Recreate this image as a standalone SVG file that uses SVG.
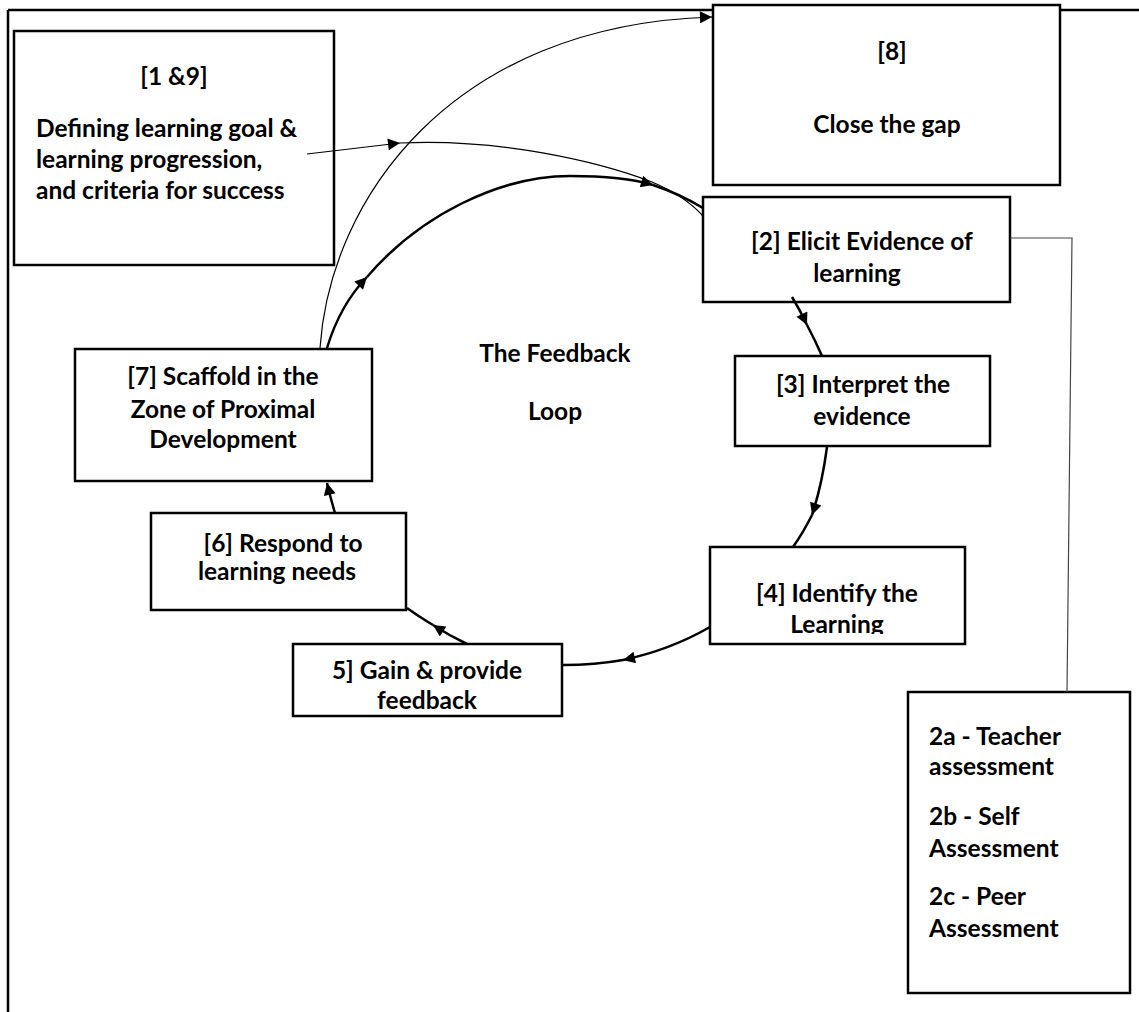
<svg xmlns="http://www.w3.org/2000/svg" width="1139" height="1012" viewBox="0 0 1139 1012">
<style>
.box{fill:#fff;stroke:#000;stroke-width:2.5}
.t{font-family:Lato,"Liberation Sans",sans-serif;font-weight:bold;font-size:24.5px;fill:#000}
.c{text-anchor:middle}
.thick{fill:none;stroke:#000;stroke-width:2.5}
.thin{fill:none;stroke:#000;stroke-width:1.2}
.frame{stroke:#000;stroke-width:2.5}
</style>
<defs>
<marker id="arr" viewBox="0 0 10 10" refX="10" refY="5" markerWidth="17" markerHeight="12" markerUnits="userSpaceOnUse" orient="auto">
<path d="M0,0 L10,5 L0,10 z" fill="#000"/>
</marker>
<clipPath id="clip4"><rect x="710" y="547" width="255" height="87"/></clipPath>
</defs>
<rect width="1139" height="1012" fill="#fff"/>
<g id="frame">
<line class="frame" x1="8" y1="10" x2="1139" y2="10"/>
<line class="frame" x1="8" y1="10" x2="8" y2="1012"/>
</g>
<g id="node1">
<rect class="box" x="14" y="31" width="320" height="234"/>
<text class="t c" x="174" y="85">[1 &amp;9]</text>
<text class="t" x="36" y="137">Defining learning goal &amp;</text>
<text class="t" x="36" y="168">learning progression,</text>
<text class="t" x="36" y="199">and criteria for success</text>
</g>
<g id="node8">
<rect class="box" x="713" y="5" width="347" height="180"/>
<text class="t c" x="892" y="60">[8]</text>
<text class="t c" x="887" y="133">Close the gap</text>
</g>
<g id="node2">
<rect class="box" x="703" y="197" width="307" height="105"/>
<text class="t c" x="862" y="250">[2] Elicit Evidence of</text>
<text class="t c" x="857" y="282">learning</text>
</g>
<g id="node3">
<rect class="box" x="735" y="356" width="255" height="90"/>
<text class="t c" x="863" y="393">[3] Interpret the</text>
<text class="t c" x="862" y="425">evidence</text>
</g>
<g id="node4">
<rect class="box" x="710" y="547" width="255" height="97"/>
<g clip-path="url(#clip4)">
<text class="t c" x="837" y="602">[4] Identify the</text>
<text class="t c" x="837" y="633">Learning</text>
</g>
</g>
<g id="node5">
<rect class="box" x="293" y="644" width="269" height="72"/>
<text class="t c" x="427" y="679">5] Gain &amp; provide</text>
<text class="t c" x="427" y="709">feedback</text>
</g>
<g id="node6">
<rect class="box" x="151" y="513" width="255" height="97"/>
<text class="t c" x="283" y="552">[6] Respond to</text>
<text class="t c" x="277" y="580">learning needs</text>
</g>
<g id="node7">
<rect class="box" x="75" y="349" width="297" height="132"/>
<text class="t c" x="223" y="385">[7] Scaffold in the</text>
<text class="t c" x="223" y="418">Zone of Proximal</text>
<text class="t c" x="223" y="448">Development</text>
</g>
<g id="title">
<text class="t c" x="555" y="362">The Feedback</text>
<text class="t c" x="555" y="420">Loop</text>
</g>
<g id="node2abc">
<rect class="box" x="908" y="692" width="222" height="301"/>
<text class="t" x="929" y="745">2a - Teacher</text>
<text class="t" x="929" y="775">assessment</text>
<text class="t" x="929" y="825">2b - Self</text>
<text class="t" x="929" y="857">Assessment</text>
<text class="t" x="929" y="905">2c - Peer</text>
<text class="t" x="929" y="937">Assessment</text>
</g>
<g id="connectors">
<path class="thin" d="M320,348 C330,200 450,25 712,17" marker-end="url(#arr)"/>
<path class="thin" d="M307,154 L400,143" marker-end="url(#arr)"/>
<path class="thin" d="M400,143 C500,138 600,162 652,182 Q685,196 703,216"/>
<path class="thick" d="M327,348 Q340,305 367,277" marker-end="url(#arr)"/>
<path class="thick" d="M367,277 C420,215 500,176 570,176 C605,176 630,178 653,185" marker-end="url(#arr)"/>
<path class="thick" d="M653,185 Q680,194 703,208"/>
<path class="thick" d="M792,297 Q800,310 807,325" marker-end="url(#arr)"/>
<path class="thick" d="M807,325 Q815,340 822,356"/>
<path class="thick" d="M827,447 Q822,485 812,515" marker-end="url(#arr)"/>
<path class="thick" d="M812,515 Q803,533 793,547"/>
<path class="thick" d="M710,627 Q670,650 623,660" marker-end="url(#arr)"/>
<path class="thick" d="M623,660 Q595,665 563,665"/>
<path class="thick" d="M467,644 Q450,636 433,625" marker-end="url(#arr)"/>
<path class="thick" d="M433,625 Q418,616 407,608"/>
<path class="thick" d="M335,513 Q331,500 327,483" marker-end="url(#arr)"/>
<path d="M1010,238 L1072,238 L1067,692" fill="none" stroke="#444" stroke-width="1.2"/>
</g>
</svg>
